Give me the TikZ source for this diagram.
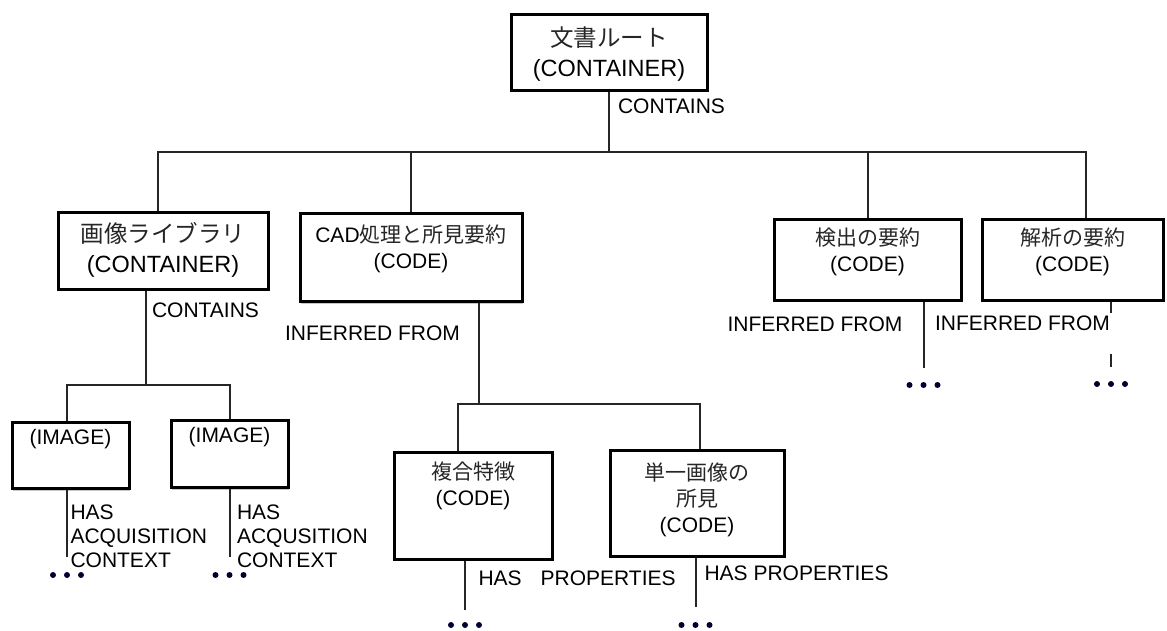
\documentclass[tikz,border=0pt]{standalone}
\usepackage{fontspec}
\setmainfont{Liberation Sans}
\newfontfamily\jpfont{Noto Sans CJK JP}
\usepackage{xcolor}
\usetikzlibrary{shadows,calc}
\newcommand{\jp}[1]{{\jpfont\color{black!85}#1}}
\tikzset{
  entity/.style={draw, line width=3pt, fill=white, inner sep=0pt},
  contbox/.style={entity, font=\fontsize{23.5}{30}\selectfont},
  codebox/.style={entity, font=\fontsize{21}{26}\selectfont},
  shd/.style={drop shadow={shadow xshift=1pt, shadow yshift=-3pt, opacity=0.45}},
  rel/.style={draw=black!85, line width=2pt},
  lbl/.style={font=\fontsize{21}{24}\selectfont, inner sep=0pt, align=left},
  dotsnode/.style={fill=white, minimum width=38pt, minimum height=7pt, inner sep=0pt,
    path picture={\fill[black!80!blue] (path picture bounding box.center) circle (3pt)
      ++(-14pt,0) circle (3pt) ++(28pt,0) circle (3pt);}},
}
\newcommand{\entity}[7]{%
  \node[#2, minimum width=#4pt] (#1) at (#3)
    {\parbox[c][#5pt][t]{#4pt}{\centering\vspace*{#6pt}#7}};}

\begin{document}
\begin{tikzpicture}[x=1pt, y=-1pt]
  \useasboundingbox (0,0) rectangle (1167,630);

  % boxes
  \entity{root}{contbox}{609,52}{196}{76}{13}{\jp{文書ルート}\\(CONTAINER)}
  \entity{lib}{contbox}{163,250.5}{210}{77}{10}{\jp{画像ライブラリ}\\(CONTAINER)}
  \entity{cad}{codebox,shd}{411,257}{222}{88}{12}{CAD\jp{処理と所見要約}\\(CODE)}
  \entity{det}{codebox}{867.5,259.5}{187}{81}{9}{\jp{検出の要約}\\(CODE)}
  \entity{ana}{codebox}{1072.5,259.5}{181}{81}{9}{\jp{解析の要約}\\(CODE)}
  \entity{img1}{codebox,shd}{70.5,455}{117}{66}{7}{(IMAGE)}
  \entity{img2}{codebox,shd}{229.5,453.5}{117}{67}{7}{(IMAGE)}
  \entity{comp}{codebox}{473,505.5}{158}{107}{10}{\jp{複合特徴}\\(CODE)}
  \entity{single}{codebox}{697,503}{174}{106}{13}{\jp{単一画像の}\\\jp{所見}\\(CODE)}

  % continuation marks
  \node[dotsnode] (m1) at (67,575) {};
  \node[dotsnode] (m2) at (229.5,575) {};
  \node[dotsnode] (m3) at (465,625) {};
  \node[dotsnode] (m4) at (695.5,625) {};
  \node[dotsnode] (m5) at (923.5,385) {};
  \node[dotsnode] (m6) at (1111,384) {};

  % bus points
  \coordinate (busL) at (158,152);
  \coordinate (busR) at (1086,152);
  \coordinate (libbus) at (146,385);
  \coordinate (ibL) at (67,385);
  \coordinate (ibR) at (230,385);
  \coordinate (cadbus) at (479,404);
  \coordinate (cbL) at (458,404);
  \coordinate (cbR) at (700,404);

  % root level
  \draw[rel] (root.south) -- node[lbl, pos=0.25, anchor=west, xshift=8pt] (c1) {CONTAINS}
    (root.south |- busL);
  \draw[rel] (busL |- lib.north) -- (busL) -- (busR) -- (busR |- ana.north);
  \draw[rel] (cad.north |- busL) -- (cad.north);
  \draw[rel] (det.north |- busL) -- (det.north);

  % image library
  \draw[rel] (lib.south -| libbus) -- node[lbl, pos=0.21, anchor=west, xshift=5pt] (c2) {CONTAINS}
    (libbus);
  \draw[rel] (ibL |- img1.north) -- (ibL) -- (ibR) -- (ibR |- img2.north);
  \draw[rel, shorten >=14pt] (img1.south -| m1) --
    node[lbl, pos=0.17, anchor=north west, xshift=2.5pt] (a1) {HAS\\ACQUISITION\\CONTEXT} (m1);
  \draw[rel, shorten >=14pt] (img2.south -| m2) --
    node[lbl, pos=0.18, anchor=north west, xshift=6.5pt] (a2) {HAS\\ACQUSITION\\CONTEXT} (m2);

  % CAD findings
  \draw[rel] (cad.south -| cadbus) -- node[lbl, pos=0.3, anchor=east, xshift=-18pt] (i1) {INFERRED FROM}
    (cadbus);
  \draw[rel] (cbL |- comp.north) -- (cbL) -- (cbR) -- (cbR |- single.north);
  \draw[rel, shorten >=11pt] (comp.south -| m3) --
    node[lbl, pos=0.29, anchor=west, xshift=12.5pt] (p1) {HAS\hspace{19pt}PROPERTIES} (m3);
  \draw[rel, shorten >=14pt] (single.south -| m4) --
    node[lbl, pos=0.25, anchor=west, xshift=8pt] (p2) {HAS PROPERTIES} (m4);

  % summaries
  \draw[rel, shorten >=13pt] (det.south -| m5) --
    node[lbl, pos=0.28, anchor=east, xshift=-20pt] (i2) {INFERRED FROM} (m5);
  \draw[rel, shorten >=13pt, dash pattern=on 11pt off 41pt on 30pt] (ana.south -| m6) --
    node[lbl, pos=0.28, anchor=east] (i3) {INFERRED FROM} (m6);
\end{tikzpicture}
\end{document}
